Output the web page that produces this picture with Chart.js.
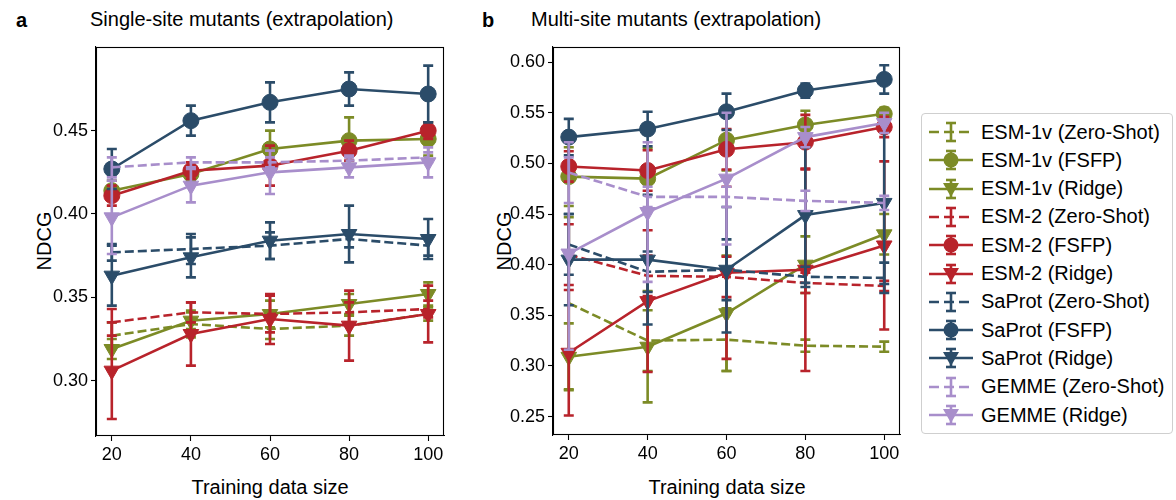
<!DOCTYPE html>
<html><head><meta charset="utf-8">
<script src="https://cdn.jsdelivr.net/npm/chart.js@4.4.0/dist/chart.umd.min.js"></script>
<style>
body{margin:0;width:1176px;height:500px;background:#fff;overflow:hidden;position:relative;font-family:"Liberation Sans",Arial,sans-serif;color:#000}
.abs{position:absolute;white-space:nowrap;line-height:1}
canvas{position:absolute;top:0}
#legend{position:absolute;left:921px;top:113px;width:252px;height:321px;border:1px solid #cfcfcf;border-radius:4px;box-sizing:border-box}
.row{position:absolute;left:7px;height:28px;display:flex;align-items:center}
.row span{font-size:20px;margin-left:8px}
</style></head><body>
<div class="abs" style="left:16px;top:10px;font-size:20px;font-weight:bold">a</div>
<div class="abs" style="left:90px;top:9px;font-size:20px">Single-site mutants (extrapolation)</div>
<div class="abs" style="left:482px;top:10px;font-size:20px;font-weight:bold">b</div>
<div class="abs" style="left:531px;top:9px;font-size:20px">Multi-site mutants (extrapolation)</div>
<div class="abs" style="left:44px;top:241px;font-size:20px;transform:translate(-50%,-50%) rotate(-90deg)">NDCG</div>
<div class="abs" style="left:504px;top:241px;font-size:20px;transform:translate(-50%,-50%) rotate(-90deg)">NDCG</div>
<div class="abs" style="left:270px;top:487px;font-size:20px;transform:translate(-50%,-50%)">Training data size</div>
<div class="abs" style="left:727px;top:487px;font-size:20px;transform:translate(-50%,-50%)">Training data size</div>
<canvas id="c1" width="460" height="500" style="left:0"></canvas>
<canvas id="c2" width="460" height="500" style="left:460px"></canvas>
<div id="legend"></div>
<script>
// ---------- data ----------
const trainingSizes = [20, 40, 60, 80, 100];
const seriesLabels = ['ESM-1v (Zero-Shot)','ESM-1v (FSFP)','ESM-1v (Ridge)','ESM-2 (Zero-Shot)','ESM-2 (FSFP)','ESM-2 (Ridge)','SaProt (Zero-Shot)','SaProt (FSFP)','SaProt (Ridge)','GEMME (Zero-Shot)','GEMME (Ridge)'];
const leftYTicks = [0.30, 0.35, 0.40, 0.45];
const rightYTicks = [0.25, 0.30, 0.35, 0.40, 0.45, 0.50, 0.55, 0.60];

// single-site (panel a)
const singleESM1vZS = [0.327, 0.334, 0.331, 0.333, 0.340];
const singleESM1vZSErr = [0.008, 0.008, 0.006, 0.006, 0.004];
const singleESM1vFSFP = [0.414, 0.424, 0.439, 0.444, 0.445];
const singleESM1vFSFPErr = [0.006, 0.004, 0.011, 0.014, 0.010];
const singleESM1vRidge = [0.319, 0.336, 0.340, 0.346, 0.352];
const singleESM1vRidgeErr = [0.006, 0.005, 0.008, 0.006, 0.007];
const singleESM2ZS = [0.335, 0.341, 0.340, 0.341, 0.343];
const singleESM2ZSErr = [0.008, 0.006, 0.011, 0.006, 0.005];
const singleESM2FSFP = [0.411, 0.426, 0.429, 0.438, 0.450];
const singleESM2FSFPErr = [0.006, 0.005, 0.012, 0.006, 0.005];
const singleESM2Ridge = [0.306, 0.328, 0.337, 0.333, 0.340];
const singleESM2RidgeErr = [0.029, 0.019, 0.015, 0.021, 0.017];
const singleSaProtZS = [0.377, 0.379, 0.381, 0.385, 0.381];
const singleSaProtZSErr = [0.005, 0.009, 0.008, 0.005, 0.006];
const singleSaProtFSFP = [0.427, 0.456, 0.467, 0.475, 0.472];
const singleSaProtFSFPErr = [0.012, 0.009, 0.012, 0.010, 0.017];
const singleSaProtRidge = [0.363, 0.374, 0.384, 0.388, 0.385];
const singleSaProtRidgeErr = [0.018, 0.012, 0.011, 0.017, 0.012];
const singleGEMMEZS = [0.428, 0.431, 0.431, 0.432, 0.434];
const singleGEMMEZSErr = [0.006, 0.003, 0.003, 0.003, 0.003];
const singleGEMMERidge = [0.398, 0.417, 0.425, 0.428, 0.431];
const singleGEMMERidgeErr = [0.022, 0.010, 0.013, 0.006, 0.009];

// multi-site (panel b)
const multiESM1vZS = [0.362, 0.325, 0.326, 0.320, 0.319];
const multiESM1vZSErr = [0.085, 0.030, 0.031, 0.006, 0.005];
const multiESM1vFSFP = [0.487, 0.485, 0.523, 0.538, 0.549];
const multiESM1vFSFPErr = [0.029, 0.030, 0.030, 0.014, 0.006];
const multiESM1vRidge = [0.309, 0.319, 0.352, 0.400, 0.430];
const multiESM1vRidgeErr = [0.033, 0.055, 0.057, 0.028, 0.020];
const multiESM2ZS = [0.410, 0.389, 0.388, 0.382, 0.379];
const multiESM2ZSErr = [0.030, 0.020, 0.020, 0.010, 0.005];
const multiESM2FSFP = [0.497, 0.493, 0.514, 0.521, 0.536];
const multiESM2FSFPErr = [0.015, 0.020, 0.020, 0.027, 0.010];
const multiESM2Ridge = [0.313, 0.364, 0.392, 0.395, 0.419];
const multiESM2RidgeErr = [0.062, 0.070, 0.085, 0.100, 0.083];
const multiSaProtZS = [0.420, 0.393, 0.395, 0.388, 0.387];
const multiSaProtZSErr = [0.030, 0.020, 0.030, 0.010, 0.015];
const multiSaProtFSFP = [0.526, 0.534, 0.551, 0.572, 0.583];
const multiSaProtFSFPErr = [0.018, 0.017, 0.018, 0.007, 0.014];
const multiSaProtRidge = [0.405, 0.405, 0.395, 0.449, 0.461];
const multiSaProtRidgeErr = [0.045, 0.064, 0.062, 0.067, 0.080];
const multiGEMMEZS = [0.491, 0.467, 0.467, 0.463, 0.461];
const multiGEMMEZSErr = [0.030, 0.010, 0.010, 0.010, 0.007];
const multiGEMMERidge = [0.411, 0.452, 0.485, 0.526, 0.540];
const multiGEMMERidgeErr = [0.095, 0.069, 0.065, 0.010, 0.010];

// ---------- styles ----------
const OLIVE = '#7c8b26', RED = '#b8232b', BLUE = '#2b4c69', LILAC = '#a88ecb';
const seriesStyle = [
  {c:OLIVE, k:'zs'},{c:OLIVE, k:'fsfp'},{c:OLIVE, k:'ridge'},
  {c:RED, k:'zs'},{c:RED, k:'fsfp'},{c:RED, k:'ridge'},
  {c:BLUE, k:'zs'},{c:BLUE, k:'fsfp'},{c:BLUE, k:'ridge'},
  {c:LILAC, k:'zs'},{c:LILAC, k:'ridge'}
];
const singleVals = [singleESM1vZS,singleESM1vFSFP,singleESM1vRidge,singleESM2ZS,singleESM2FSFP,singleESM2Ridge,singleSaProtZS,singleSaProtFSFP,singleSaProtRidge,singleGEMMEZS,singleGEMMERidge];
const singleErrs = [singleESM1vZSErr,singleESM1vFSFPErr,singleESM1vRidgeErr,singleESM2ZSErr,singleESM2FSFPErr,singleESM2RidgeErr,singleSaProtZSErr,singleSaProtFSFPErr,singleSaProtRidgeErr,singleGEMMEZSErr,singleGEMMERidgeErr];
const multiVals = [multiESM1vZS,multiESM1vFSFP,multiESM1vRidge,multiESM2ZS,multiESM2FSFP,multiESM2Ridge,multiSaProtZS,multiSaProtFSFP,multiSaProtRidge,multiGEMMEZS,multiGEMMERidge];
const multiErrs = [multiESM1vZSErr,multiESM1vFSFPErr,multiESM1vRidgeErr,multiESM2ZSErr,multiESM2FSFPErr,multiESM2RidgeErr,multiSaProtZSErr,multiSaProtFSFPErr,multiSaProtRidgeErr,multiGEMMEZSErr,multiGEMMERidgeErr];

const LW = 2.6, CAP = 5, DASH = [9, 4];
const FONT = '"Liberation Sans", Arial, sans-serif';

function buildDatasets(vals, errs){
  const n = vals.length;
  return vals.map((arr, i) => {
    const st = seriesStyle[i];
    return {
      label: seriesLabels[i],
      data: arr.map((v, j) => ({x: trainingSizes[j], y: v})),
      errors: errs[i],
      borderColor: st.c, backgroundColor: st.c,
      pointBackgroundColor: st.c, pointBorderColor: st.c,
      borderWidth: LW, tension: 0, order: n - i,
      borderDash: st.k === 'zs' ? DASH : [],
      pointRadius: st.k === 'zs' ? 0 : (st.k === 'fsfp' ? 8 : 9),
      pointStyle: st.k === 'ridge' ? 'triangle' : 'circle',
      rotation: st.k === 'ridge' ? 180 : 0,
      pointBorderWidth: 1,
      clip: 0
    };
  });
}

const errorBarPlugin = {
  id: 'errbars',
  beforeDatasetDraw(chart, args){
    const ds = chart.data.datasets[args.index];
    if (!ds.errors) return;
    const ctx = chart.ctx, ys = chart.scales.y, a = chart.chartArea;
    ctx.save();
    ctx.beginPath(); ctx.rect(a.left, a.top, a.right - a.left, a.bottom - a.top); ctx.clip();
    ctx.strokeStyle = ds.borderColor; ctx.lineWidth = LW; ctx.lineCap = 'butt';
    args.meta.data.forEach((pt, i) => {
      const v = ds.data[i].y, e = ds.errors[i];
      const x = pt.x, yt = ys.getPixelForValue(v + e), yb = ys.getPixelForValue(v - e);
      ctx.beginPath();
      ctx.moveTo(x, yt); ctx.lineTo(x, yb);
      ctx.moveTo(x - CAP, yt); ctx.lineTo(x + CAP, yt);
      ctx.moveTo(x - CAP, yb); ctx.lineTo(x + CAP, yb);
      ctx.stroke();
    });
    ctx.restore();
  }
};
const framePlugin = {
  id: 'frame',
  afterDraw(chart){
    const a = chart.chartArea, ctx = chart.ctx;
    ctx.save(); ctx.strokeStyle = '#000'; ctx.lineWidth = 1.1;
    ctx.strokeRect(a.left + 0.5, a.top + 0.5, a.right - a.left - 1, a.bottom - a.top - 1);
    ctx.restore();
  }
};

function makeChart(id, vals, errs, yMin, yMax, yTicks, padRight, yWidth, xHeight){
  return new Chart(document.getElementById(id), {
    type: 'line',
    data: { datasets: buildDatasets(vals, errs) },
    plugins: [errorBarPlugin, framePlugin],
    options: {
      responsive: false, animation: false,
      layout: { padding: { top: 47, right: padRight, left: 0, bottom: 0 } },
      plugins: { legend: { display: false }, tooltip: { enabled: false }, title: { display: false } },
      scales: {
        x: {
          type: 'linear', min: 16, max: 104,
          afterBuildTicks: s => { s.ticks = trainingSizes.map(v => ({value: v})); },
          afterFit: s => { s.height = xHeight; },
          grid: { drawOnChartArea: false, drawTicks: true, tickLength: 5, tickColor: '#000', tickWidth: 1.1 },
          border: { display: true, color: '#000', width: 1.1 },
          ticks: { color: '#000', font: { family: FONT, size: 18 }, padding: 3, maxRotation: 0, autoSkip: false }
        },
        y: {
          type: 'linear', min: yMin, max: yMax,
          afterBuildTicks: s => { s.ticks = yTicks.map(v => ({value: v})); },
          afterFit: s => { s.width = yWidth; },
          grid: { drawOnChartArea: false, drawTicks: true, tickLength: 5, tickColor: '#000', tickWidth: 1.1 },
          border: { display: true, color: '#000', width: 1.1 },
          ticks: { color: '#000', font: { family: FONT, size: 18 }, padding: 3, callback: v => v.toFixed(2) }
        }
      }
    }
  });
}

makeChart('c1', singleVals, singleErrs, 0.2668, 0.5002, leftYTicks, 16, 96, 64);
makeChart('c2', multiVals, multiErrs, 0.2318, 0.6150, rightYTicks, 20, 93, 65);

// ---------- legend ----------
const legend = document.getElementById('legend');
seriesLabels.forEach((lab, i) => {
  const st = seriesStyle[i];
  const row = document.createElement('div');
  row.className = 'row';
  row.style.top = (4 + i * 28.3) + 'px';
  const W = 44, H = 28, cx = 22, cy = 14;
  let marker = '';
  if (st.k === 'fsfp') marker = `<circle cx="${cx}" cy="${cy}" r="7.5" fill="${st.c}"/>`;
  if (st.k === 'ridge') marker = `<polygon points="${cx-8},${cy-6} ${cx+8},${cy-6} ${cx},${cy+8}" fill="${st.c}"/>`;
  const dash = st.k === 'zs' ? 'stroke-dasharray="10,5"' : '';
  row.innerHTML = `<svg width="${W}" height="${H}"><line x1="0" y1="${cy}" x2="${W}" y2="${cy}" stroke="${st.c}" stroke-width="${LW}" ${dash}/>` +
    `<line x1="${cx}" y1="${cy-9}" x2="${cx}" y2="${cy+9}" stroke="${st.c}" stroke-width="${LW}"/>` +
    `<line x1="${cx-CAP}" y1="${cy-9}" x2="${cx+CAP}" y2="${cy-9}" stroke="${st.c}" stroke-width="${LW}"/>` +
    `<line x1="${cx-CAP}" y1="${cy+9}" x2="${cx+CAP}" y2="${cy+9}" stroke="${st.c}" stroke-width="${LW}"/>` +
    marker + `</svg><span>${lab}</span>`;
  legend.appendChild(row);
});
</script>
</body></html>
